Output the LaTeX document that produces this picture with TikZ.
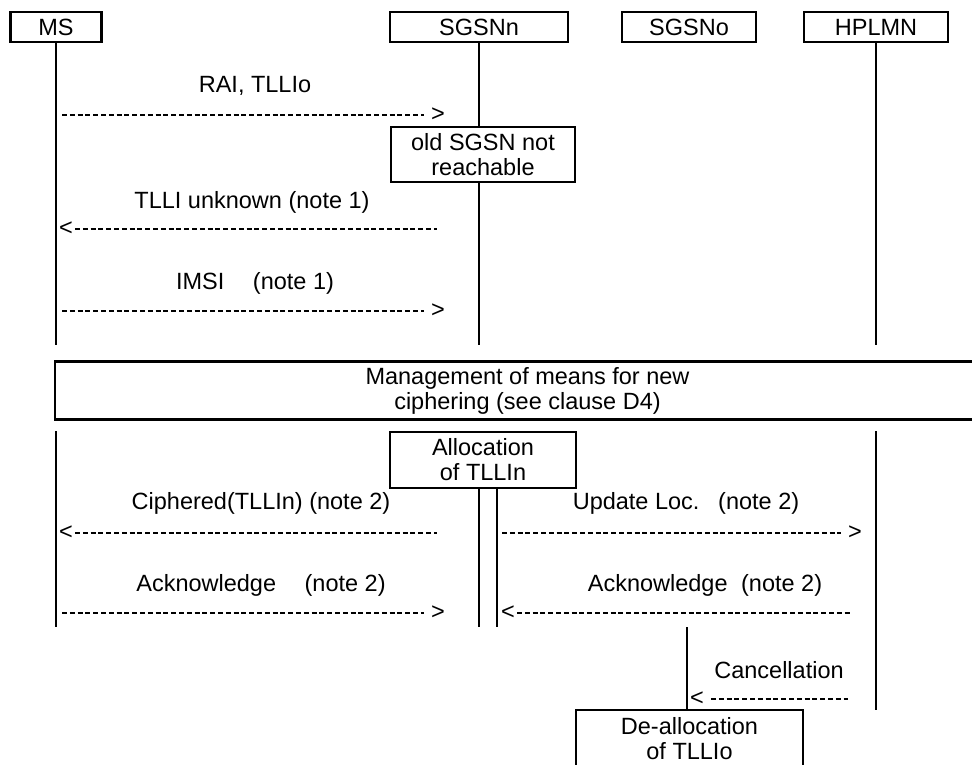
\documentclass[tikz,border=0pt]{standalone}
\usepackage{fontspec}
\setmainfont{Liberation Sans}
\usetikzlibrary{positioning}

\tikzset{
  entity/.style={draw, line width=2.1pt, inner sep=0pt, minimum height=30pt,
    font=\fontsize{23.5}{25}\selectfont},
  procbox/.style={draw, line width=2.1pt, inner sep=0pt, align=center,
    font=\fontsize{23.5}{25}\selectfont},
  life/.style={line width=2pt},
  msg/.style={line width=1.6pt, dash pattern=on 5pt off 2.8pt, shorten >=7pt},
  msgl/.style={line width=1.6pt, dash pattern=on 5pt off 2.8pt, shorten <=2pt},
  lbl/.style={inner sep=0pt, font=\fontsize{23.5}{25}\selectfont},
  chev/.style={inner sep=0pt, font=\fontsize{23.5}{25}\selectfont}
}

\begin{document}
\begin{tikzpicture}[x=1pt,y=-1pt]
  \useasboundingbox (0,0) rectangle (972,764);

  % entities
  \node[entity, minimum width=91pt] (ms) at (56,27) {MS};
  \node[entity, minimum width=178pt] (sgsnn) at (479,27) {SGSNn};
  \node[entity, minimum width=134pt] (sgsno) at (689,27) {SGSNo};
  \node[entity, minimum width=144pt] (hplmn) at (876,27) {HPLMN};

  % upper part
  \node[procbox, minimum width=184pt, minimum height=55pt] (old) at (483,154.5)
    {old SGSN not\\reachable};
  \draw[life] (ms.south) -- (56,345);
  \draw[life] (sgsnn.south) -- (sgsnn.south |- old.north);
  \draw[life] (sgsnn.south |- old.south) -- (479,345);
  \draw[life] (hplmn.south) -- (876,345);

  \node[lbl] (l1) at (255,86) {RAI, TLLIo};
  \coordinate (s1) at (62,115);
  \node[chev] (a1) at (438,115) {>};
  \draw[msg] (s1) -- (a1);

  \node[lbl] (l2) at (252,202) {TLLI unknown (note 1)};
  \node[chev] (a2) at (66,229) {<};
  \coordinate (s2) at (437,229);
  \draw[msgl] (a2) -- (s2);

  \node[lbl] (l3) at (255,283) {IMSI\hspace{22pt} (note 1)};
  \coordinate (s3) at (62,311);
  \node[chev] (a3) at (438,311) {>};
  \draw[msg] (s3) -- (a3);

  % common procedure
  \node[procbox, minimum width=945pt, minimum height=58pt] (mgmt) at (527.5,390.5)
    {Management of means for new\\ciphering (see clause D4)};

  % lower part
  \node[procbox, minimum width=186pt, minimum height=56pt] (alloc) at (483,460)
    {Allocation\\of TLLIn};
  \draw[life] (56,431) -- (56,627);
  \draw[life] (alloc.south -| 479,0) -- (479,627);
  \draw[life] (alloc.south -| 497,0) -- (497,627);
  \draw[life] (876,431) -- (876,710);

  \node[lbl] (l4) at (261,503) {Ciphered(TLLIn) (note 2)};
  \node[chev] (a4) at (66,533) {<};
  \coordinate (s4) at (437,533);
  \draw[msgl] (a4) -- (s4);

  \node[lbl] (l5) at (686,503) {Update Loc.\hspace{10pt} (note 2)};
  \coordinate (s5) at (502,533);
  \node[chev] (a5) at (855,533) {>};
  \draw[msg] (s5) -- (a5);

  \node[lbl] (l6) at (261,585) {Acknowledge\hspace{22pt} (note 2)};
  \coordinate (s6) at (62,613);
  \node[chev] (a6) at (438,613) {>};
  \draw[msg] (s6) -- (a6);

  \node[lbl] (l7) at (705,585) {Acknowledge\hspace{7pt} (note 2)};
  \node[chev] (a7) at (508,613) {<};
  \coordinate (s7) at (852,613);
  \draw[msgl] (a7) -- (s7);

  % cancellation towards old SGSN
  \node[procbox, minimum width=227pt, minimum height=58pt] (dealloc) at (689.5,739)
    {De-allocation\\of TLLIo};
  \draw[life] (687,627) -- (dealloc.north -| 687,0);

  \node[lbl] (l8) at (779,670) {Cancellation};
  \node[chev] (a8) at (697,699) {<};
  \coordinate (s8) at (848,699);
  \draw[msgl, shorten <=7pt] (a8) -- (s8);
\end{tikzpicture}
\end{document}
